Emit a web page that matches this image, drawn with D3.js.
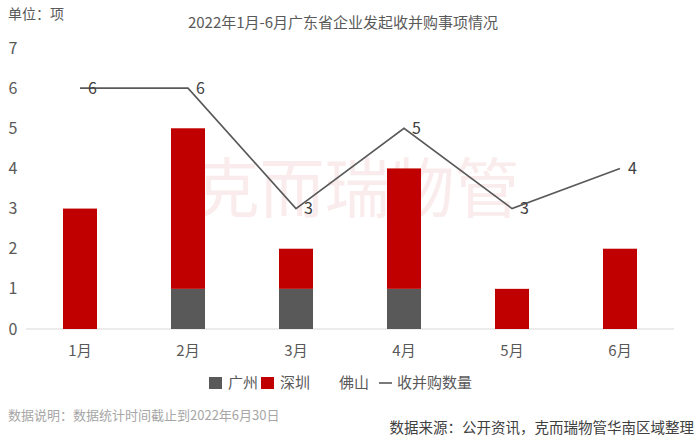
<!DOCTYPE html>
<html><head><meta charset="utf-8">
<script src="https://cdn.jsdelivr.net/npm/d3@7"></script>
<style>body{margin:0;background:#fff}svg{display:block;font-family:"Noto Sans CJK SC","Noto Sans",sans-serif}</style>
</head><body><svg id="c" width="700" height="437"></svg>
<script>
const months = ["1月","2月","3月","4月","5月","6月"];
const guangzhou = [0,1,1,1,0,0];
const shenzhen = [3,4,1,3,1,2];
const foshan = [3,1,1,1,2,2];
const total = [6,6,3,5,3,4];
const yTicks = [0,1,2,3,4,5,6,7];

const svg = d3.select("#c");
const x = d3.scaleBand().domain(months).range([26,674]).paddingInner(0.685).paddingOuter(0.3425);
const y = d3.scaleLinear().domain([0,7]).range([329,48]);
const cx = m => x(m) + x.bandwidth()/2;

svg.append("text").attr("x",8).attr("y",19).attr("font-size",14).attr("fill","#595959").text("单位：项");
svg.append("text").attr("x",343).attr("y",28).attr("text-anchor","middle").attr("font-size",15).attr("fill","#595959").text("2022年1月-6月广东省企业发起收并购事项情况");

// watermark
svg.append("text").attr("x",357).attr("y",184).attr("dominant-baseline","central").attr("text-anchor","middle")
  .attr("font-size",65).attr("fill","#c00000").attr("opacity",0.07).text("克而瑞物管");

// y ticks
svg.append("g").selectAll("text").data(yTicks).join("text")
  .attr("x",13).attr("y",d=>y(d)).attr("dy","0.35em").attr("text-anchor","middle")
  .attr("font-size",16).attr("fill","#595959").text(d=>d);

// baseline
svg.append("line").attr("x1",26).attr("x2",674).attr("y1",y(0)).attr("y2",y(0)).attr("stroke","#d9d9d9").attr("stroke-width",1);

// stacked bars
const rows = months.map((m,i)=>({m, gz:guangzhou[i], sz:shenzhen[i], fs:foshan[i]}));
const stack = d3.stack().keys(["gz","sz","fs"])(rows);
const colors = {gz:"#595959", sz:"#c00000", fs:"#ffffff"};
svg.append("g").selectAll("g").data(stack).join("g").attr("fill",d=>colors[d.key]).attr("fill-opacity",d=>d.key==="fs"?0:1)
  .selectAll("rect").data(d=>d).join("rect")
  .attr("x",d=>x(d.data.m)).attr("width",x.bandwidth())
  .attr("y",d=>y(d[1])).attr("height",d=>y(d[0])-y(d[1]));

// x labels
svg.append("g").selectAll("text").data(months).join("text")
  .attr("x",cx).attr("y",356).attr("text-anchor","middle").attr("font-size",15).attr("fill","#595959").text(d=>d);

// line
const line = d3.line().x((d,i)=>cx(months[i])).y(d=>y(d));
svg.append("path").datum(total).attr("d",line).attr("fill","none").attr("stroke","#595959").attr("stroke-width",1.6);
svg.append("g").selectAll("text").data(total).join("text")
  .attr("x",(d,i)=>cx(months[i])+8).attr("y",d=>y(d)).attr("dy","0.36em")
  .attr("font-size",16).attr("fill","#404040").text(d=>d);

// legend
const lg = svg.append("g").attr("font-size",15).attr("fill","#595959");
lg.append("rect").attr("x",209).attr("y",377).attr("width",13).attr("height",12).attr("fill","#595959");
lg.append("text").attr("x",228).attr("y",383).attr("dy","0.36em").text("广州");
lg.append("rect").attr("x",261).attr("y",377).attr("width",13).attr("height",12).attr("fill","#c00000");
lg.append("text").attr("x",280).attr("y",383).attr("dy","0.36em").text("深圳");
lg.append("text").attr("x",339).attr("y",383).attr("dy","0.36em").text("佛山");
lg.append("line").attr("x1",379).attr("x2",392).attr("y1",383).attr("y2",383).attr("stroke","#595959").attr("stroke-width",1.6);
lg.append("text").attr("x",397).attr("y",383).attr("dy","0.36em").text("收并购数量");

svg.append("text").attr("x",8).attr("y",415).attr("dy","0.36em").attr("font-size",13).attr("fill","#a6a6a6").text("数据说明：数据统计时间截止到2022年6月30日");
svg.append("text").attr("x",694).attr("y",428).attr("dy","0.36em").attr("text-anchor","end").attr("font-size",14.5).attr("fill","#404040").text("数据来源：公开资讯，克而瑞物管华南区域整理");
</script></body></html>
